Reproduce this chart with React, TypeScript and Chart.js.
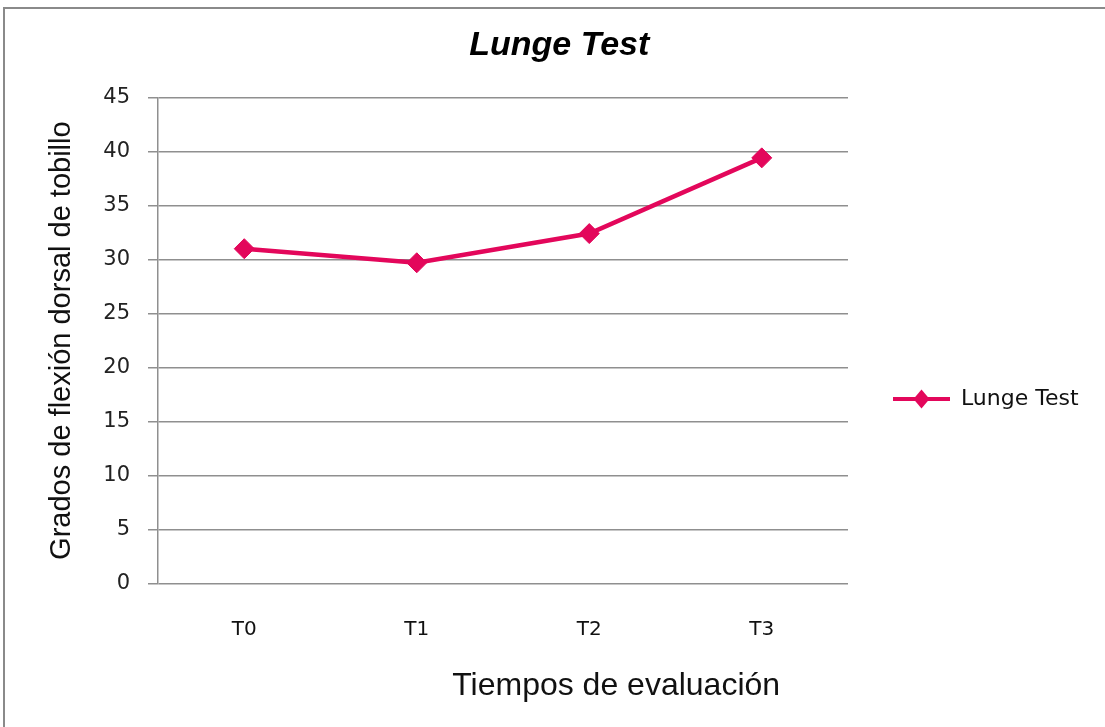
import React, { useEffect, useRef } from "react";
import { Chart, registerables } from "chart.js";

Chart.register(...registerables);

// ---- data ----
const categories = ["T0", "T1", "T2", "T3"];
const lungeTestValues = [31.0, 29.7, 32.4, 39.4];
const seriesLabel = "Lunge Test";
const chartTitle = "Lunge Test";
const xAxisTitle = "Tiempos de evaluación";
const yAxisTitle = "Grados de flexión dorsal de tobillo";
const yMin = 0;
const yMax = 45;
const yStep = 5;

// ---- styling ----
const W = 1105;
const H = 727;
const LINE_COLOR = "#E3075B";
const GRID_COLOR = "#8f8f8f";
const SANS = "'Liberation Sans', Arial, sans-serif";
const DEJAVU = "'DejaVu Sans', Verdana, sans-serif";
const LEGEND_FONT_SIZE = 22;
const LEGEND_SYMBOL_W = 57;
const LEGEND_PAD = 45;
const PLOT_RIGHT = 848;
const LEFT_PAD = 30;

function makeLegendSymbol(): HTMLCanvasElement {
  const c = document.createElement("canvas");
  c.width = LEGEND_SYMBOL_W;
  c.height = 22;
  const ctx = c.getContext("2d")!;
  ctx.strokeStyle = LINE_COLOR;
  ctx.lineWidth = 4;
  ctx.beginPath();
  ctx.moveTo(0, 11);
  ctx.lineTo(LEGEND_SYMBOL_W, 11);
  ctx.stroke();
  ctx.fillStyle = LINE_COLOR;
  const cx = LEGEND_SYMBOL_W / 2;
  ctx.beginPath();
  ctx.moveTo(cx, 1.5);
  ctx.lineTo(cx + 8, 11);
  ctx.lineTo(cx, 20.5);
  ctx.lineTo(cx - 8, 11);
  ctx.closePath();
  ctx.fill();
  return c;
}

const framePlugin = {
  id: "frame",
  beforeDraw(chart: any) {
    const ctx = chart.ctx;
    ctx.save();
    ctx.fillStyle = "#ffffff";
    ctx.fillRect(0, 0, chart.width, chart.height);
    ctx.strokeStyle = "#8a8a8a";
    ctx.lineWidth = 2;
    ctx.strokeRect(4, 8, chart.width + 40, chart.height + 40);
    ctx.restore();
  },
};

const xTitlePlugin = {
  id: "xTitle",
  afterDraw(chart: any) {
    const { ctx, chartArea } = chart;
    ctx.save();
    ctx.font = `32px ${SANS}`;
    ctx.fillStyle = "#111";
    ctx.textAlign = "center";
    ctx.textBaseline = "middle";
    ctx.fillText(
      xAxisTitle,
      chartArea.left + (chartArea.right - chartArea.left) * 0.664,
      chartArea.bottom + 102
    );
    ctx.restore();
  },
};

export default function App() {
  const ref = useRef<HTMLCanvasElement | null>(null);

  useEffect(() => {
    if (!ref.current) return;
    const symbol = makeLegendSymbol();

    const m = document.createElement("canvas").getContext("2d")!;
    m.font = `${LEGEND_FONT_SIZE}px ${DEJAVU}`;
    const tw = m.measureText(seriesLabel).width;
    const legendWidth = LEGEND_PAD + LEGEND_SYMBOL_W + LEGEND_FONT_SIZE / 2 + tw + 10;
    const rightPad = Math.max(0, W - PLOT_RIGHT - legendWidth);

    const chart = new Chart(ref.current, {
      type: "line",
      data: {
        labels: categories,
        datasets: [
          {
            label: seriesLabel,
            data: lungeTestValues,
            borderColor: LINE_COLOR,
            backgroundColor: LINE_COLOR,
            borderWidth: 4.5,
            pointStyle: "rectRot",
            pointRadius: 10,
            pointBorderWidth: 1,
            pointBackgroundColor: LINE_COLOR,
            pointBorderColor: LINE_COLOR,
            tension: 0,
            fill: false,
          },
        ],
      },
      options: {
        responsive: false,
        animation: false,
        layout: { padding: { left: LEFT_PAD, right: rightPad, top: 0, bottom: 0 } },
        plugins: {
          title: {
            display: true,
            text: chartTitle,
            color: "#000",
            font: { family: SANS, size: 34, weight: "bold", style: "italic" },
            padding: { top: 25, bottom: 31.5 },
          },
          legend: {
            position: "right",
            align: "center",
            title: {
              display: true,
              text: "",
              font: { size: 10 },
              padding: { top: 59, bottom: 0 },
            },
            labels: {
              usePointStyle: true,
              pointStyleWidth: LEGEND_SYMBOL_W,
              padding: LEGEND_PAD,
              color: "#111",
              font: { family: DEJAVU, size: LEGEND_FONT_SIZE },
              generateLabels(c: any) {
                const items = (Chart.defaults.plugins.legend.labels as any).generateLabels(c);
                return items.map((it: any) => ({ ...it, pointStyle: symbol }));
              },
            },
          },
          tooltip: { enabled: false },
        },
        scales: {
          x: {
            offset: true,
            grid: { display: false, drawTicks: false },
            border: { display: false },
            ticks: {
              color: "#111",
              padding: 34,
              font: { family: DEJAVU, size: 20 },
            },
            afterFit(scale: any) {
              scale.height = 143;
            },
          },
          y: {
            min: yMin,
            max: yMax,
            ticks: {
              stepSize: yStep,
              color: "#222",
              padding: 18,
              font: { family: DEJAVU, size: 21 },
            },
            grid: { color: GRID_COLOR, lineWidth: 1.5, tickLength: 10, drawTicks: true },
            border: { display: true, color: GRID_COLOR, width: 1.5 },
            title: {
              display: true,
              text: yAxisTitle,
              color: "#111",
              font: { family: SANS, size: 29 },
              padding: { top: 15, bottom: 0 },
            },
            afterFit(scale: any) {
              scale.width = 158 - LEFT_PAD;
            },
          },
        },
      },
      plugins: [framePlugin, xTitlePlugin],
    } as any);

    return () => chart.destroy();
  }, []);

  return (
    <canvas
      ref={ref}
      width={W}
      height={H}
      style={{ position: "absolute", left: 0, top: 0, width: W, height: H }}
    />
  );
}
